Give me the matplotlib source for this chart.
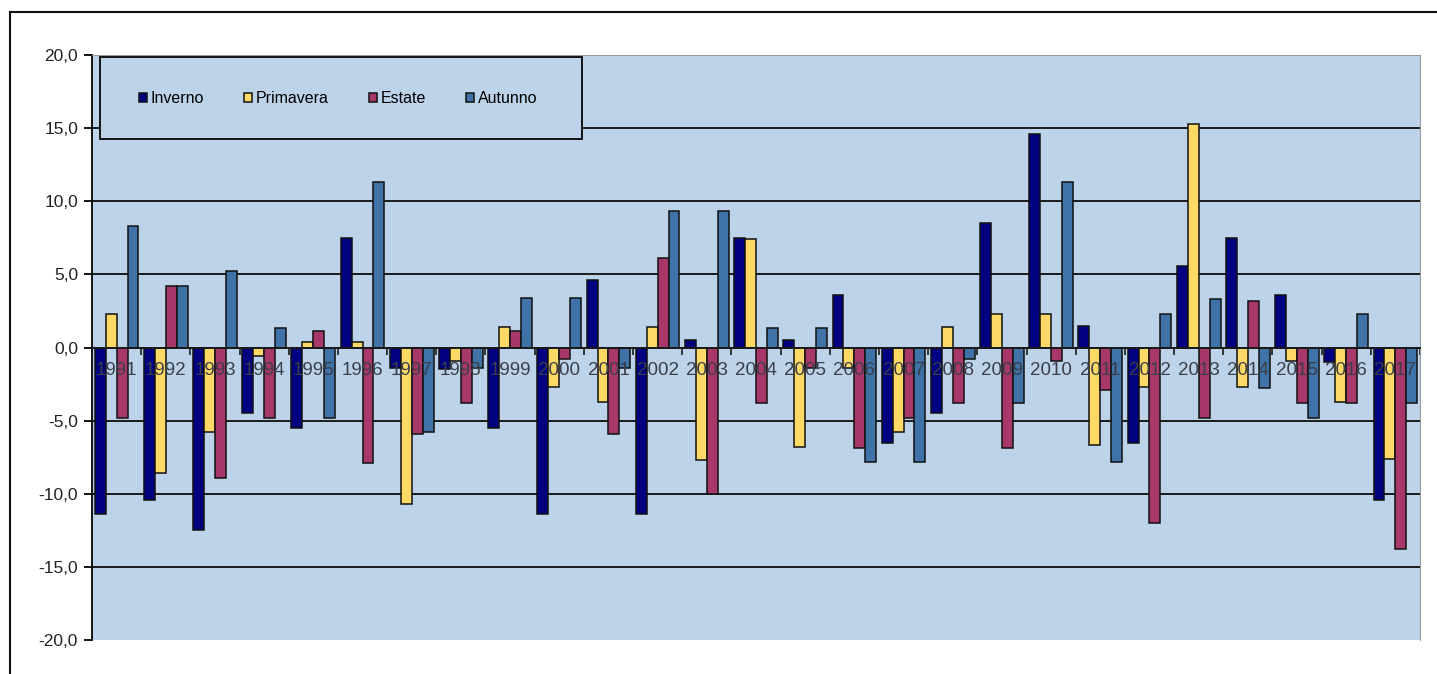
import numpy as np
import matplotlib
matplotlib.use('Agg')
import matplotlib.pyplot as plt
from matplotlib.lines import Line2D
from matplotlib.patches import Rectangle

plt.rcParams['font.family'] = ['Liberation Sans', 'DejaVu Sans']

anni = [str(a) for a in range(1991, 2018)]
inverno = [-11.4, -10.4, -12.5, -4.5, -5.5, 7.5, -1.4, -1.5, -5.5, -11.4, 4.6, -11.4, 0.5, 7.5,
           0.5, 3.6, -6.5, -4.5, 8.5, 14.6, 1.5, -6.5, 5.6, 7.5, 3.6, -1.0, -10.4]
primavera = [2.3, -8.6, -5.8, -0.6, 0.4, 0.4, -10.7, -0.9, 1.4, -2.7, -3.7, 1.4, -7.7, 7.4,
             -6.8, -1.4, -5.8, 1.4, 2.3, 2.3, -6.7, -2.7, 15.3, -2.7, -0.9, -3.7, -7.6]
estate = [-4.8, 4.2, -8.9, -4.8, 1.1, -7.9, -5.9, -3.8, 1.1, -0.8, -5.9, 6.1, -10.0, -3.8,
          -1.4, -6.9, -4.8, -3.8, -6.9, -0.9, -2.9, -12.0, -4.8, 3.2, -3.8, -3.8, -13.8]
autunno = [8.3, 4.2, 5.2, 1.3, -4.8, 11.3, -5.8, -1.4, 3.4, 3.4, -1.4, 9.3, 9.3, 1.3,
           1.3, -7.8, -7.8, -0.8, -3.8, 11.3, -7.8, 2.3, 3.3, -2.8, -4.8, 2.3, -3.8]

serie = [('Inverno', inverno, '#000080'),
         ('Primavera', primavera, '#FFD966'),
         ('Estate', estate, '#A8386A'),
         ('Autunno', autunno, '#3F72A6')]

fig = plt.figure(figsize=(14.37, 6.74), dpi=100)
ax = fig.add_axes([92 / 1437, 1 - 640 / 674, (1420 - 92) / 1437, (640 - 55) / 674])
ax.set_facecolor('#BDD3EA')

x = np.arange(len(anni))
w = 0.222
for i, (nome, vals, col) in enumerate(serie):
    ax.bar(x + (i - 1.5) * w, vals, w, color=col, edgecolor='#111111', linewidth=1.1,
           label=nome, zorder=2)

ax.set_xlim(-0.5, len(anni) - 0.5)
ax.set_ylim(-20, 20)
ax.set_yticks(np.arange(-20, 21, 5))
ax.set_yticklabels([f'{v:.1f}'.replace('.', ',') for v in np.arange(-20, 21, 5)],
                   fontsize=12.5, color='#222222')
for v in range(-15, 20, 5):
    ax.axhline(v, color='#1a1a1a', linewidth=1.4, zorder=1)

# x axis on the zero line, ticks between the years
ax.spines['bottom'].set_position(('data', 0))
ax.spines['bottom'].set_color('#1a1a1a')
ax.spines['bottom'].set_linewidth(1.4)
ax.set_xticks(np.arange(-0.5, len(anni), 1.0))
ax.set_xticklabels([])
ax.tick_params(axis='x', direction='out', length=5, width=1.2, color='#1a1a1a')
for xi, a in zip(x, anni):
    ax.text(xi, -1.6, a, ha='center', va='center', fontsize=13.5, color='#3a3f4a',
            zorder=3)

ax.spines['left'].set_color('#111111')
ax.spines['left'].set_linewidth(1.4)
for s in ['top', 'right']:
    ax.spines[s].set_color('#9a9a9a')
ax.tick_params(axis='y', direction='out', length=6, width=1.3, pad=4)

# legend box
ax.add_patch(Rectangle((0.006, 0.856), 0.363, 0.14, transform=ax.transAxes,
                       facecolor='#BDD3EA', edgecolor='#111111', linewidth=1.4, zorder=4))
leg = ax.legend(loc='center', bbox_to_anchor=(0.006 + 0.363 / 2 - 0.002, 0.856 + 0.07),
                ncol=4, fontsize=11.5, frameon=False,
                handlelength=0.5, handleheight=0.5, handletextpad=0.25,
                columnspacing=2.5, borderaxespad=0)
leg.set_zorder(5)

# outer frame of the chart area
fig.add_artist(Line2D([10 / 1437, 10 / 1437], [0, 1 - 12 / 674], color='#111111', linewidth=1.5))
fig.add_artist(Line2D([10 / 1437, 1], [1 - 12 / 674, 1 - 12 / 674], color='#111111', linewidth=1.5))

fig.savefig('out.png', dpi=100)
